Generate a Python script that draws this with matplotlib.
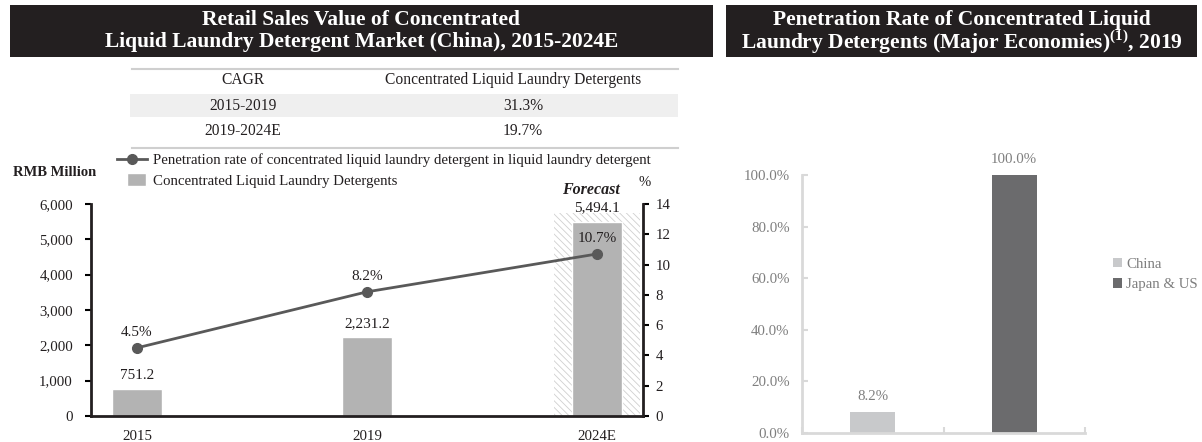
import matplotlib
matplotlib.use("Agg")
import matplotlib.pyplot as plt
import numpy as np
from matplotlib.patches import Rectangle
from matplotlib.lines import Line2D
from matplotlib.legend_handler import HandlerPatch
from matplotlib.ticker import FuncFormatter

# ==========================================
# DATA
# ==========================================

years = ["2015", "2019", "2024E"]
sales_rmb_m = [751.2, 2231.2, 5494.1]
penetration_pct = [4.5, 8.2, 10.7]

cagr_header = ["CAGR", "Concentrated Liquid Laundry Detergents"]
cagr_periods = ["2015-2019", "2019-2024E"]
cagr_values = ["31.3%", "19.7%"]

regions = ["China", "Japan & US"]
region_rates = [8.2, 100.0]

# ==========================================
# STYLE / LAYOUT
# ==========================================

W, H = 1202, 442
FONT = "Liberation Serif"
plt.rcParams["font.family"] = FONT
plt.rcParams["mathtext.fontset"] = "custom"
plt.rcParams["mathtext.rm"] = FONT
plt.rcParams["mathtext.bf"] = FONT + ":bold"
plt.rcParams["hatch.linewidth"] = 0.6

BANNER = "#231f20"
TXT = "#231f20"
BAR_GREY = "#b3b3b3"
LINE_GREY = "#595959"
LIGHT_AX = "#d9d9d9"
GREY_TXT = "#7f7f7f"
REGION_COLORS = ["#c8c9cb", "#6b6b6d"]


def fx(px):
    return px / W


def fy(py):
    return 1 - py / H


def square_handle(legend, orig_handle, xdescent, ydescent, width, height, fontsize):
    # small square key, right aligned in the handle box
    return Rectangle((-xdescent + width - 14.5, -ydescent + height / 2 - 4.7), 13.7, 9.4)


fig = plt.figure(figsize=(W / 100, H / 100), dpi=100)

# title banners
for x0, x1, lines in [
    (10, 713, ["Retail Sales Value of Concentrated",
               "Liquid Laundry Detergent Market (China), 2015-2024E"]),
    (726, 1197, ["Penetration Rate of Concentrated Liquid",
                 "Laundry Detergents (Major Economies)$^{\\mathbf{(1)}}$, 2019"]),
]:
    fig.add_artist(Rectangle((fx(x0), fy(57)), (x1 - x0) / W, 52 / H,
                             transform=fig.transFigure, color=BANNER, lw=0))
    for py, s in zip([20, 42], lines):
        fig.text(fx((x0 + x1) / 2), fy(py), s, ha="center", va="center",
                 color="white", fontsize=15.5, fontweight="bold")

# ==========================================
# CAGR TABLE
# ==========================================

fig.add_artist(Rectangle((fx(130), fy(117)), 548 / W, 23 / H,
                         transform=fig.transFigure, color="#efefef", lw=0))
for py in [69, 148]:
    fig.add_artist(Line2D([fx(132), fx(678)], [fy(py), fy(py)],
                          transform=fig.transFigure, color="#cfcfcf", lw=1.5))
col_x = [243, 513]
fig.text(fx(col_x[0]), fy(80), cagr_header[0], ha="center", va="center",
         fontsize=11.2, color=TXT)
fig.text(fx(col_x[1]), fy(80), cagr_header[1], ha="center", va="center",
         fontsize=11.2, color=TXT)
for py, period, val in zip([106, 131], cagr_periods, cagr_values):
    fig.text(fx(col_x[0]), fy(py), period, ha="center", va="center",
             fontsize=11.2, color=TXT)
    fig.text(fx(523), fy(py), val, ha="center", va="center",
             fontsize=11.2, color=TXT)

# ==========================================
# LEFT CHART
# ==========================================

ax = fig.add_axes([fx(91), fy(416), (643 - 91) / W, (416 - 204) / H])
x = np.arange(len(years))

# forecast hatched background
ax.bar(x[-1], 5750, width=0.375, color="white", hatch="\\\\\\\\\\",
       edgecolor="#cfcfcf", linewidth=0, zorder=1)
sales_bars = ax.bar(x, sales_rmb_m, width=0.215, color=BAR_GREY, edgecolor="white",
                    linewidth=1, zorder=2)
for xi, v in zip(x, sales_rmb_m):
    ax.annotate(f"{v:,.1f}", (xi, v), xytext=(0, 10), textcoords="offset points",
                ha="center", va="center", fontsize=11, color=TXT)

ax.set_xlim(-0.2, 2.2)
ax.set_ylim(0, 6000)
ax.set_yticks(np.arange(0, 6001, 1000))
ax.yaxis.set_major_formatter(FuncFormatter(lambda v, _: f"{v:,.0f}"))
ax.set_xticks(x)
ax.set_xticklabels(years)
ax.tick_params(axis="y", direction="out", length=4, width=1.5, pad=9,
               labelsize=10.7, labelcolor=TXT)
ax.tick_params(axis="x", length=0, pad=10, labelsize=10.7, labelcolor=TXT)
for side in ["top", "right"]:
    ax.spines[side].set_visible(False)
for side in ["left", "bottom"]:
    ax.spines[side].set_linewidth(2)
    ax.spines[side].set_color(TXT)

ax2 = ax.twinx()
pen_line, = ax2.plot(x, penetration_pct, color=LINE_GREY, lw=2, marker="o", ms=7, zorder=3)
for xi, p in zip(x, penetration_pct):
    ax2.annotate(f"{p:.1f}%", (xi, p), xytext=(0, 11), textcoords="offset points",
                 ha="center", va="center", fontsize=11, color=TXT)
ax2.set_ylim(0, 14)
ax2.set_yticks(np.arange(0, 15, 2))
ax2.tick_params(axis="y", direction="out", length=4, width=1.5, pad=5,
                labelsize=10.7, labelcolor=TXT)
for side in ["top", "left", "bottom"]:
    ax2.spines[side].set_visible(False)
ax2.spines["right"].set_linewidth(2)
ax2.spines["right"].set_color(TXT)

fig.legend(handles=[pen_line, sales_bars.patches[0]],
           labels=["Penetration rate of concentrated liquid laundry detergent in liquid laundry detergent",
                   "Concentrated Liquid Laundry Detergents"],
           loc="upper left", bbox_to_anchor=(fx(117), fy(153)),
           frameon=False, fontsize=10.7, handlelength=2.0, handletextpad=0.4,
           labelspacing=0.5, borderpad=0, borderaxespad=0, labelcolor=TXT,
           handler_map={Rectangle: HandlerPatch(patch_func=square_handle)})

fig.text(fx(13), fy(173), "RMB Million", ha="left", va="center",
         fontsize=10.5, fontweight="bold", color=TXT)
fig.text(fx(591), fy(190), "Forecast", ha="center", va="center",
         fontsize=11.5, fontweight="bold", fontstyle="italic", color=TXT)
fig.text(fx(645), fy(182), "%", ha="center", va="center", fontsize=10.5, color=TXT)

# ==========================================
# RIGHT CHART
# ==========================================

axr = fig.add_axes([fx(802), fy(433), (1085 - 802) / W, (433 - 175) / H])
xr = np.arange(len(regions))
for xi, name, rate, col in zip(xr, regions, region_rates, REGION_COLORS):
    axr.bar(xi, rate, width=0.32, color=col, label=name)
    axr.annotate(f"{rate:.1f}%", (xi, rate), xytext=(0, 11), textcoords="offset points",
                 ha="center", va="center", fontsize=10.7, color=GREY_TXT)

axr.set_xlim(-0.5, 1.5)
axr.set_ylim(0, 100)
axr.set_yticks(np.arange(0, 101, 20))
axr.yaxis.set_major_formatter(FuncFormatter(lambda v, _: f"{v:.1f}%"))
axr.set_xticks([-0.5, 0.5, 1.5])
axr.tick_params(axis="x", direction="in", length=4, width=1.5, color=LIGHT_AX,
                labelbottom=False)
axr.tick_params(axis="y", direction="in", length=4, width=1.5, color=LIGHT_AX,
                pad=9, labelsize=10.7, labelcolor=GREY_TXT)
for side in ["top", "right"]:
    axr.spines[side].set_visible(False)
for side in ["left", "bottom"]:
    axr.spines[side].set_linewidth(2)
    axr.spines[side].set_color(LIGHT_AX)

axr.legend(loc="upper left", bbox_to_anchor=(fx(1113), fy(258)),
           bbox_transform=fig.transFigure, frameon=False, fontsize=10.7,
           handlelength=0.6, handleheight=0.6, handletextpad=0.3,
           labelspacing=0.5, borderpad=0, borderaxespad=0, labelcolor=GREY_TXT)

fig.savefig("out.png", dpi=100)
